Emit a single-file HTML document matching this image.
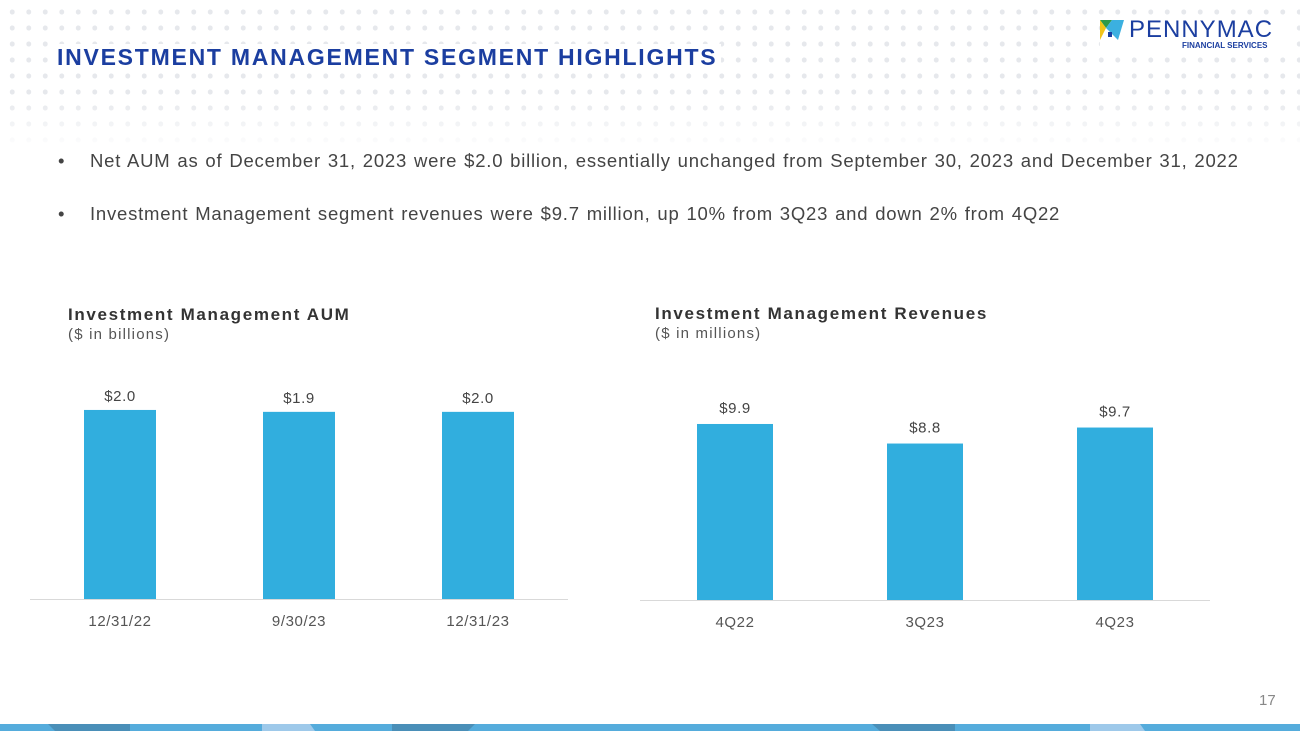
<!DOCTYPE html>
<html><head><meta charset="utf-8"><style>
body{margin:0;width:1300px;height:731px;overflow:hidden;background:#fff;font-family:"Liberation Sans",sans-serif;position:relative}
.dots{position:absolute;left:0;top:0;width:1300px;height:150px;background-image:radial-gradient(circle,#e6e8ec 2.4px,transparent 2.6px);background-size:16.5px 16px;background-position:4px 4px;-webkit-mask-image:linear-gradient(#000 65%,transparent);mask-image:linear-gradient(#000 65%,transparent)}
.title{position:absolute;left:57px;top:44px;font-size:23px;font-weight:bold;color:#1b3ea0;background:#fff;letter-spacing:1.75px;padding-right:4px}
.bul{position:absolute;left:58px;font-size:18.5px;color:#444}
.bul span{position:absolute;left:32px;white-space:nowrap;letter-spacing:0.78px;word-spacing:1px}
.ct{position:absolute;font-size:17px;font-weight:bold;color:#333;letter-spacing:1.65px;white-space:nowrap}
.cs{position:absolute;font-size:15px;color:#555;letter-spacing:1.2px}
svg text{font-family:"Liberation Sans",sans-serif;letter-spacing:0.6px}
</style></head><body>
<div class="dots"></div>
<div class="title">INVESTMENT MANAGEMENT SEGMENT HIGHLIGHTS</div>
<div style="position:absolute;left:1100px;top:17px;width:190px;height:36px;background:#fff">
<svg width="24" height="20" style="position:absolute;left:0;top:3px"><polygon points="0,0 12,0 6,8" fill="#2e9a4a"/><polygon points="0,0 6,8 0,20" fill="#f2c418"/><polygon points="12,0 24,0 18,20 6,8" fill="#3bb0e0"/><rect x="8" y="12" width="4" height="5" fill="#1b3ea0"/></svg>
<div style="position:absolute;left:29px;top:-1px;font-size:24px;color:#1b3ea0;letter-spacing:1px">PENNYMAC</div>
<div style="position:absolute;left:82px;top:24px;font-size:8px;font-weight:bold;color:#1b3ea0">FINANCIAL SERVICES</div>
</div>
<div class="bul" style="top:150px">•<span>Net AUM as of December 31, 2023 were $2.0 billion, essentially unchanged from September 30, 2023 and December 31, 2022</span></div>
<div class="bul" style="top:203px">•<span>Investment Management segment revenues were $9.7 million, up 10% from 3Q23 and down 2% from 4Q22</span></div>
<div class="ct" style="left:68px;top:305px">Investment Management AUM</div>
<div class="cs" style="left:68px;top:326px">($ in billions)</div>
<div class="ct" style="left:655px;top:304px">Investment Management Revenues</div>
<div class="cs" style="left:655px;top:325px">($ in millions)</div>
<svg id="c1" style="position:absolute;left:0;top:0" width="1300" height="731"></svg>
<div style="position:absolute;left:1259px;top:692px;font-size:15px;color:#888">17</div>
<svg style="position:absolute;left:0;top:724px" width="1300" height="7">
<rect width="1300" height="7" fill="#55acdc"/><polygon points="48,0 130,0 130,7 55,7" fill="#4a8fb8"/><polygon points="262,0 310,0 315,7 262,7" fill="#9ec9ea"/><polygon points="392,0 475,0 468,7 392,7" fill="#4a8fb8"/><polygon points="872,0 955,0 955,7 880,7" fill="#4a8fb8"/><polygon points="1090,0 1140,0 1145,7 1090,7" fill="#9ec9ea"/>
</svg>
<script>
const aumCats=["12/31/22","9/30/23","12/31/23"];
const aumVals=[1.99,1.97,1.97];
const aumLabels=["$2.0","$1.9","$2.0"];
const revCats=["4Q22","3Q23","4Q23"];
const revVals=[9.9,8.8,9.7];
const revLabels=["$9.9","$8.8","$9.7"];
const svg=document.getElementById('c1');
const NS="http://www.w3.org/2000/svg";
function mk(t,a){const e=document.createElementNS(NS,t);for(const k in a)e.setAttribute(k,a[k]);svg.appendChild(e);return e;}
function chart(cats,vals,labels,cfg,pre){
  const y=v=>cfg.base-v*cfg.scale;
  const ax=mk('line',{x1:cfg.x0,x2:cfg.x1,y1:cfg.base+0.5,y2:cfg.base+0.5,stroke:'#d9d9d9','stroke-width':1});
  
  
  cats.forEach((c,i)=>{
    const cx=cfg.first+i*cfg.step;
    const r=mk('rect',{x:cx-cfg.w/2,y:y(vals[i]),width:cfg.w,height:cfg.base-y(vals[i]),fill:'#31aede'});
    
    
    const l=mk('text',{x:cx,y:y(vals[i])-cfg.lo,'text-anchor':'middle','font-size':15,fill:'#444'});
    l.textContent=labels[i];
    
    
    const t=mk('text',{x:cx,y:cfg.base+27,'text-anchor':'middle','font-size':15,fill:'#555'});
    t.textContent=c;
    
    
  });
}
chart(aumCats,aumVals,aumLabels,{base:599,scale:95,x0:30,x1:568,first:120,step:179,w:72,lo:9},'aum');
chart(revCats,revVals,revLabels,{base:600,scale:17.78,x0:640,x1:1210,first:735,step:190,w:76,lo:11},'rev');
</script>
</body></html>
